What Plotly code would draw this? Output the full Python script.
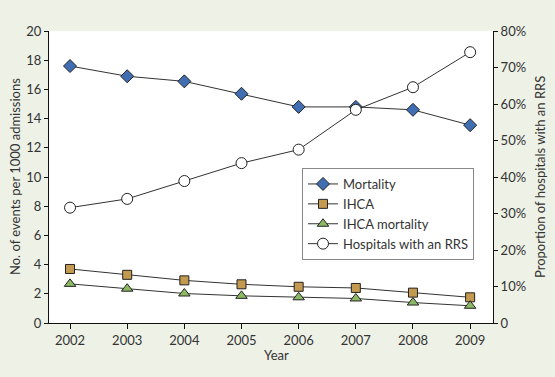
import plotly.graph_objects as go

years = [2002, 2003, 2004, 2005, 2006, 2007, 2008, 2009]
mortality = [17.6, 16.9, 16.55, 15.7, 14.8, 14.8, 14.6, 13.55]
ihca = [3.7, 3.3, 2.92, 2.65, 2.48, 2.4, 2.08, 1.76]
ihca_mortality = [2.68, 2.35, 2.02, 1.86, 1.76, 1.68, 1.4, 1.18]
hospitals_rrs = [31.6, 34.0, 38.9, 43.8, 47.5, 58.4, 64.6, 74.2]

left_ticks = [0, 2, 4, 6, 8, 10, 12, 14, 16, 18, 20]
right_ticks = [0, 10, 20, 30, 40, 50, 60, 70, 80]
right_ticktext = ["0"] + [f"{v}%" for v in right_ticks[1:]]

font_family = "Lato, 'Open Sans', sans-serif"
txt = "#333333"
line_col = "#333333"

W, H = 555, 377
ML, MR, MT, MB = 49, 62, 31, 54

fig = go.Figure()
fig.add_trace(go.Scatter(x=years, y=mortality, name="Mortality", mode="lines+markers",
                         line=dict(color=line_col, width=1),
                         marker=dict(symbol="diamond", size=10, color="#3F6FB2",
                                     line=dict(color="#222222", width=1))))
fig.add_trace(go.Scatter(x=years, y=ihca, name="IHCA", mode="lines+markers",
                         line=dict(color=line_col, width=1),
                         marker=dict(symbol="square", size=9, color="#C49A50",
                                     line=dict(color="#222222", width=1))))
fig.add_trace(go.Scatter(x=years, y=ihca_mortality, name="IHCA mortality", mode="lines+markers",
                         line=dict(color=line_col, width=1),
                         marker=dict(symbol="triangle-up", size=10, color="#8CB964",
                                     line=dict(color="#222222", width=1))))
fig.add_trace(go.Scatter(x=years, y=hospitals_rrs, name="Hospitals with an RRS", mode="lines+markers",
                         yaxis="y2",
                         line=dict(color=line_col, width=1),
                         marker=dict(symbol="circle", size=11, color="white",
                                     line=dict(color="#222222", width=1))))

axis_common = dict(showgrid=False, zeroline=False, showline=True, linecolor="#111111",
                   linewidth=1, ticks="outside", tickcolor="#111111", automargin=False)

fig.update_layout(
    width=W, height=H,
    margin=dict(l=ML, r=MR, t=MT, b=MB, autoexpand=False),
    paper_bgcolor="#EDF1E6",
    plot_bgcolor="white",
    font=dict(family=font_family, size=13, color=txt),
    showlegend=True,
    legend=dict(x=(302 - ML) / (W - ML - MR), y=(H - MB - 168) / (H - MT - MB),
                xanchor="left", yanchor="top",
                bgcolor="white", bordercolor="#888888", borderwidth=1,
                font=dict(size=13, color=txt), tracegroupgap=0, itemwidth=30),
    xaxis=dict(range=[2001.632, 2009.40], tickvals=years, ticktext=[str(y) for y in years],
               ticklen=5, **axis_common),
    yaxis=dict(range=[0, 20], tickvals=left_ticks, ticklen=4, **axis_common),
    yaxis2=dict(range=[0, 80], tickvals=right_ticks, ticktext=right_ticktext,
                overlaying="y", side="right", ticklen=4, **axis_common),
    annotations=[
        dict(text="Year", xref="paper", yref="paper", x=(276 - ML) / (W - ML - MR),
             y=-(355 - (H - MB)) / (H - MT - MB), xanchor="center", yanchor="middle",
             showarrow=False, font=dict(size=13, color=txt)),
        dict(text="No. of events per 1000 admissions", xref="paper", yref="paper",
             x=-(ML - 15) / (W - ML - MR), y=0.5, xanchor="center", yanchor="middle",
             textangle=-90, showarrow=False, font=dict(size=13, color=txt)),
        dict(text="Proportion of hospitals with an RRS", xref="paper", yref="paper",
             x=1 + (540 - (W - MR)) / (W - ML - MR), y=0.5, xanchor="center", yanchor="middle",
             textangle=-90, showarrow=False, font=dict(size=13, color=txt)),
    ],
)

fig.write_html("out.html", config={"displayModeBar": False},
               post_script="document.body.style.margin='0px';document.body.style.overflow='hidden';")
